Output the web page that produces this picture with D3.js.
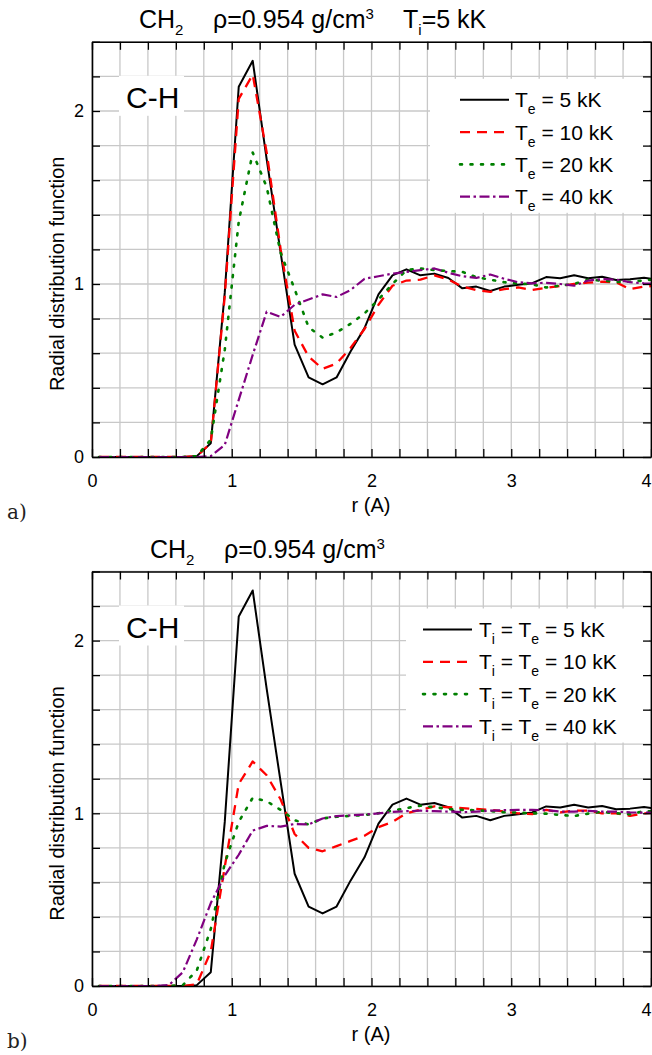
<!DOCTYPE html>
<html><head><meta charset="utf-8">
<script src="https://cdn.jsdelivr.net/npm/d3@7/dist/d3.min.js"></script>
<style>
body{margin:0;background:#fff;}
svg{display:block;font-family:"Liberation Sans",Arial,sans-serif;}
</style></head><body>
<script>
// r grid (A)
const r = [0.05,0.15,0.25,0.35,0.45,0.55,0.65,0.75,0.85,0.95,1.05,1.15,1.25,1.35,1.45,1.55,1.65,1.75,1.85,1.95,
           2.05,2.15,2.25,2.35,2.45,2.55,2.65,2.75,2.85,2.95,3.05,3.15,3.25,3.35,3.45,3.55,3.65,3.75,3.85,3.95,4.05];

// panel a : Ti = 5 kK
const te5  = [0,0,0,0,0,0,0,0.005,0.08,0.95,2.14,2.29,1.72,1.18,0.65,0.46,0.42,0.46,0.61,0.745,0.94,1.05,1.085,1.05,1.06,1.035,0.975,0.985,0.96,0.985,0.995,1.005,1.04,1.033,1.05,1.033,1.042,1.023,1.027,1.036,1.025];
const te10 = [0,0,0,0,0,0,0,0.005,0.08,0.93,2.07,2.21,1.76,1.2,0.73,0.58,0.51,0.54,0.63,0.74,0.88,0.99,1.02,1.025,1.05,1.025,0.985,0.965,0.955,0.97,0.98,0.965,0.978,0.988,1.0,1.008,1.013,1.01,0.97,0.985,0.99];
const te20 = [0,0,0,0,0,0,0,0.005,0.1,0.62,1.36,1.76,1.56,1.18,0.97,0.75,0.69,0.72,0.77,0.83,0.91,1.0,1.08,1.09,1.08,1.075,1.07,1.04,1.025,1.01,1.003,0.998,0.98,0.99,1.0,1.025,1.02,1.012,1.013,1.02,1.03];
const te40 = [0,0,0,0,0,0,0,0,0.005,0.07,0.33,0.59,0.84,0.81,0.88,0.91,0.94,0.925,0.965,1.03,1.045,1.06,1.07,1.08,1.09,1.065,1.045,1.035,1.055,1.03,1.01,1.004,1.007,1.0,0.99,1.02,1.028,1.025,1.01,1.004,1.0];

// panel b : Ti = Te (5 kK curve is the same run as in panel a)
const tt5  = te5;
const tt10 = [0,0,0,0,0,0,0,0.01,0.2,0.69,1.17,1.3,1.22,1.08,0.88,0.8,0.78,0.81,0.84,0.87,0.92,0.95,1.0,1.02,1.04,1.035,1.03,1.025,1.02,1.01,1.0,0.995,1.02,1.005,1.015,1.015,1.0,1.0,0.985,1.0,1.005];
const tt20 = [0,0,0,0,0,0,0.005,0.09,0.33,0.71,0.95,1.09,1.07,1.02,0.96,0.935,0.97,0.98,0.985,0.99,1.0,1.015,1.03,1.044,1.035,1.025,1.02,1.017,1.013,1.006,1.004,1.0,0.998,0.99,0.984,0.998,1.008,1.0,0.994,1.013,1.01];
const tt40 = [0,0,0,0,0,0.005,0.08,0.27,0.48,0.64,0.76,0.9,0.927,0.923,0.938,0.936,0.97,0.984,0.988,0.992,1.0,1.008,1.012,1.015,1.012,1.01,1.006,1.01,1.015,1.018,1.02,1.02,1.018,1.01,1.01,1.014,1.01,1.01,1.005,1.004,1.003];

const temps = ["5", "10", "20", "40"];
const xTicks = [0, 1, 2, 3, 4];
const yTicks = [0, 1, 2];

const styles = [
  {color: "#000000", dash: null,            width: 2},
  {color: "#ff0000", dash: "10,7",          width: 2.3},
  {color: "#008000", dash: "2,8.5",         width: 2.6},
  {color: "#800080", dash: "10,3.5,2.5,3.5", width: 2.2}
];

const W = 652, H = 1055;
const svg = d3.select("body").append("svg").attr("width", W).attr("height", H);

function drawPanel(p) {
  const x = d3.scaleLinear().domain([0, 4]).range([92, 651]);
  const y = d3.scaleLinear().domain([0, 2.4]).range([p.bottom, p.top]);
  const g = svg.append("g");
  const gx = d3.range(0, 4.001, 0.2), gy = d3.range(0, 2.401, 0.2);

  // grid
  g.append("g").selectAll("line").data(gx).join("line")
    .attr("x1", d => x(d)).attr("x2", d => x(d)).attr("y1", y(0)).attr("y2", y(2.4))
    .attr("stroke", "#c8c8c8").attr("stroke-width", 1.3);
  g.append("g").selectAll("line").data(gy).join("line")
    .attr("y1", d => y(d)).attr("y2", d => y(d)).attr("x1", x(0)).attr("x2", x(4))
    .attr("stroke", "#c8c8c8").attr("stroke-width", 1.3);

  g.append("clipPath").attr("id", p.id)
    .append("rect").attr("x", x(0)).attr("y", y(2.4)).attr("width", x(4) - x(0)).attr("height", y(0) - y(2.4));

  const line = d3.line().x((d, i) => x(r[i])).y(d => y(d));
  g.append("g").attr("clip-path", `url(#${p.id})`)
    .selectAll("path").data(p.series).join("path")
    .attr("d", d => line(d))
    .attr("fill", "none")
    .attr("stroke", (d, i) => styles[i].color)
    .attr("stroke-width", (d, i) => styles[i].width)
    .attr("stroke-dasharray", (d, i) => styles[i].dash)
    .attr("stroke-linecap", (d, i) => i == 2 ? "round" : "butt")
    .attr("stroke-linejoin", "round");

  // C-H label
  g.append("rect").attr("x", 119).attr("y", p.top + 34).attr("width", 65).attr("height", 40).attr("fill", "#fff");
  g.append("text").attr("x", 126).attr("y", p.top + 66).attr("font-size", 30).text("C-H");

  // legend
  const L = p.legend;
  g.append("rect").attr("x", L.x).attr("y", p.top + 37).attr("width", 649 - L.x).attr("height", 134).attr("fill", "#fff");
  const rows = g.append("g").selectAll("g").data(temps).join("g")
    .attr("transform", (d, i) => `translate(0,${p.top + 58 + i * 32.3})`);
  rows.append("line")
    .attr("x1", L.lx).attr("x2", L.lx + 49).attr("y1", 0).attr("y2", 0)
    .attr("stroke", (d, i) => styles[i].color)
    .attr("stroke-width", (d, i) => styles[i].width)
    .attr("stroke-dasharray", (d, i) => styles[i].dash)
    .attr("stroke-linecap", (d, i) => i == 2 ? "round" : "butt");
  const lt = rows.append("text").attr("x", L.tx).attr("y", 7.5).attr("font-size", 21);
  L.label(lt);

  // axes
  const lab = list => d => list.some(t => Math.abs(t - d) < 1e-6) ? String(Math.round(d)) : "";
  const ax = [
    g.append("g").attr("transform", `translate(0,${y(0)})`)
      .call(d3.axisBottom(x).tickValues(gx).tickSize(-8).tickSizeOuter(0).tickPadding(17).tickFormat(lab(xTicks))),
    g.append("g").attr("transform", `translate(0,${y(2.4)})`)
      .call(d3.axisTop(x).tickValues(gx).tickSize(-8).tickSizeOuter(0).tickFormat("")),
    g.append("g").attr("transform", `translate(${x(0)},0)`)
      .call(d3.axisLeft(y).tickValues(gy).tickSize(-8).tickSizeOuter(0).tickPadding(8).tickFormat(lab(yTicks))),
    g.append("g").attr("transform", `translate(${x(4)},0)`)
      .call(d3.axisRight(y).tickValues(gy).tickSize(-8).tickSizeOuter(0).tickFormat(""))
  ];
  ax.forEach(a => {
    a.attr("font-family", null).attr("font-size", 18);
    a.select(".domain").attr("stroke-width", 1.6);
    a.selectAll(".tick line").attr("stroke-width", 1.3);
    a.selectAll(".tick text").attr("fill", "#000");
  });
  // last x label sits against the page edge; nudge it inside
  ax[0].selectAll(".tick text").filter(d => Math.abs(d - 4) < 1e-6).attr("dx", -5);

  // axis titles
  g.append("text").attr("transform", `translate(64,${p.top + 232}) rotate(-90)`)
    .attr("text-anchor", "middle").attr("font-size", 20).text("Radial distribution function");
  g.append("text").attr("x", 371).attr("y", p.bottom + 55).attr("text-anchor", "middle")
    .attr("font-size", 20).text("r (A)");
  g.append("text").attr("x", 7).attr("y", p.bottom + 62)
    .attr("font-family", "'DejaVu Serif', 'Liberation Serif', serif").attr("font-size", 20)
    .attr("fill", "#222").text(p.tag);

  // title
  const t = g.append("text").attr("y", p.top - 14).attr("font-size", 25);
  p.title(t);
}

function sub(t, s) { t.append("tspan").attr("dy", 7).attr("font-size", 15).text(s); }

drawPanel({
  id: "clipA", top: 41.8, bottom: 457, tag: "a)",
  series: [te5, te10, te20, te40],
  legend: {x: 430, lx: 460, tx: 515,
    label: t => {
      t.append("tspan").text("T");
      t.append("tspan").attr("dy", 7).attr("font-size", 14).text("e");
      t.append("tspan").attr("dy", -7).text(d => " = " + d + " kK");
    }},
  title: t => {
    t.append("tspan").attr("x", 139).text("CH");
    sub(t, "2");
    t.append("tspan").attr("x", 213).attr("dy", -7).text("ρ=0.954 g/cm");
    t.append("tspan").attr("dy", -9).attr("font-size", 15).text("3");
    t.append("tspan").attr("x", 403).attr("dy", 9).text("T");
    sub(t, "i");
    t.append("tspan").attr("dy", -7).text("=5 kK");
  }
});

drawPanel({
  id: "clipB", top: 571.5, bottom: 986, tag: "b)",
  series: [tt5, tt10, tt20, tt40],
  legend: {x: 406, lx: 423, tx: 479,
    label: t => {
      t.append("tspan").text("T");
      t.append("tspan").attr("dy", 7).attr("font-size", 14).text("i");
      t.append("tspan").attr("dy", -7).text(" = T");
      t.append("tspan").attr("dy", 7).attr("font-size", 14).text("e");
      t.append("tspan").attr("dy", -7).text(d => " = " + d + " kK");
    }},
  title: t => {
    t.append("tspan").attr("x", 150).text("CH");
    sub(t, "2");
    t.append("tspan").attr("x", 224).attr("dy", -7).text("ρ=0.954 g/cm");
    t.append("tspan").attr("dy", -9).attr("font-size", 15).text("3");
  }
});
</script>
</body></html>
